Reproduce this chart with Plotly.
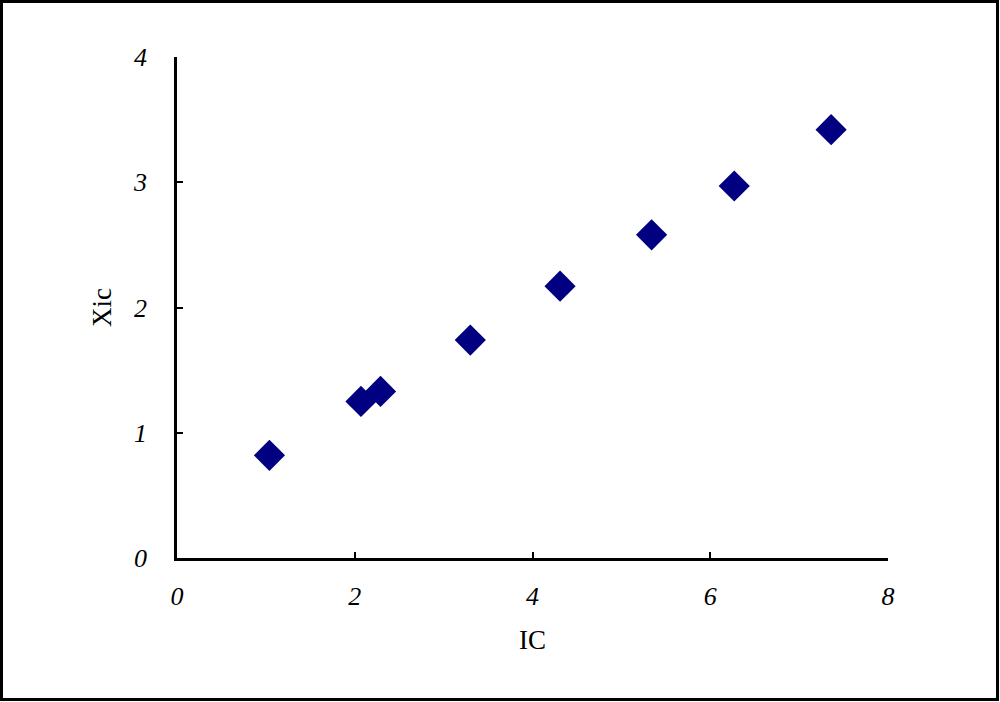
import plotly.graph_objects as go

ic = [1.04, 2.07, 2.29, 3.30, 4.31, 5.34, 6.27, 7.36]
xic = [0.82, 1.25, 1.33, 1.74, 2.17, 2.58, 2.97, 3.42]

x_ticks = [0, 2, 4, 6, 8]
y_ticks = [0, 1, 2, 3, 4]

W, H = 1000, 702
L, R, T, B = 177, 112, 57, 144

fig = go.Figure()
fig.add_trace(go.Scatter(
    x=ic, y=xic, mode="markers",
    marker=dict(symbol="diamond", size=24, color="#000080", line=dict(width=0)),
    showlegend=False, cliponaxis=False,
))

tickfont = dict(family="Liberation Serif", size=26, color="black", style="italic")
titlefont = dict(family="Liberation Serif", size=27, color="black")

fig.update_xaxes(
    range=[0, 8], tickvals=x_ticks, ticktext=[str(v) for v in x_ticks],
    showgrid=False, zeroline=False, showline=True, linecolor="black", linewidth=2.5,
    ticks="inside", ticklen=6, tickwidth=2, tickcolor="black",
    tickfont=tickfont, ticklabelstandoff=13,
    title=dict(text="IC", font=titlefont, standoff=21),
    automargin=False, mirror=False,
)
fig.update_yaxes(
    range=[0, 4], tickvals=y_ticks, ticktext=[str(v) for v in y_ticks],
    showgrid=False, zeroline=False, showline=True, linecolor="black", linewidth=2.5,
    ticks="inside", ticklen=6, tickwidth=2, tickcolor="black",
    tickfont=tickfont, ticklabelstandoff=22,
    title=dict(text="Xic", font=titlefont, standoff=14),
    automargin=False,
)

pw = W - L - R
ph = H - T - B
fig.add_shape(
    type="rect", xref="paper", yref="paper",
    x0=(1.5 - L) / pw, x1=(W - 2.5 - L) / pw,
    y0=-(H - 2.5 - T - ph) / ph, y1=1 + (T - 1.5) / ph,
    line=dict(color="black", width=3), fillcolor="rgba(0,0,0,0)",
)

fig.update_layout(
    width=W, height=H,
    margin=dict(l=L, r=R, t=T, b=B, autoexpand=False),
    plot_bgcolor="white", paper_bgcolor="white",
)

fig.write_html(
    "out.html",
    config={"displayModeBar": False},
    post_script="document.body.style.margin='0';document.body.style.overflow='hidden';",
)
